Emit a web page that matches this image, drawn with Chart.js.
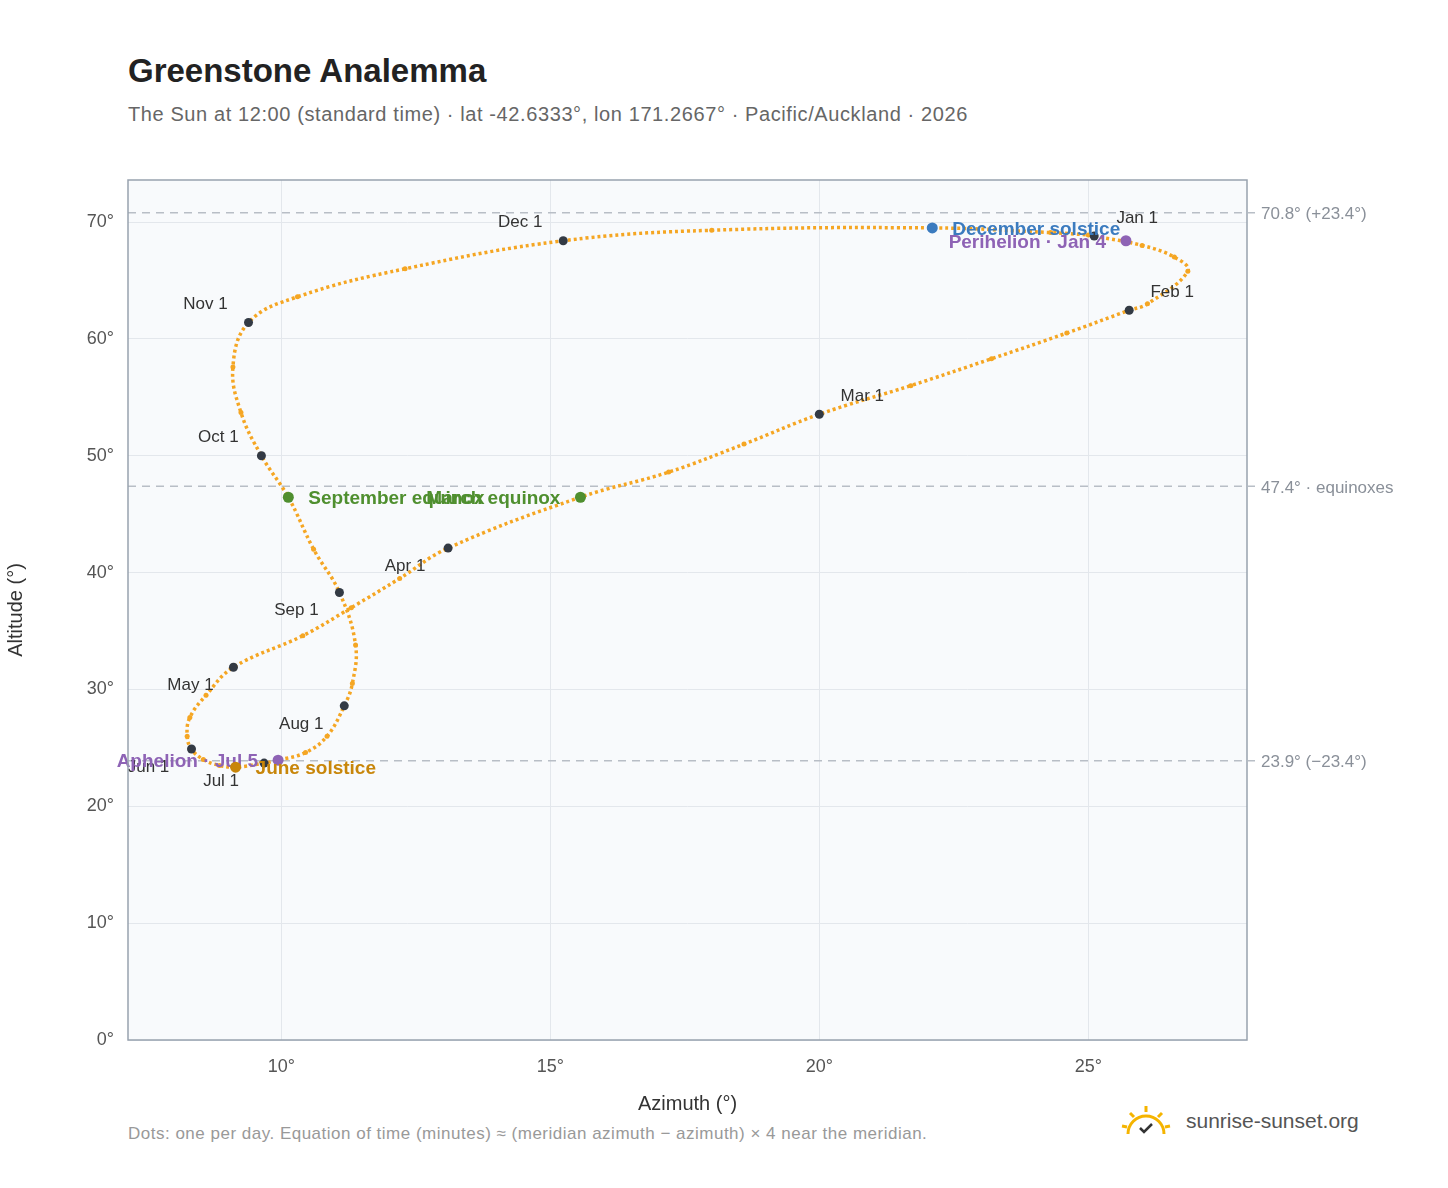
<!DOCTYPE html>
<html><head><meta charset="utf-8">
<script src="https://cdn.jsdelivr.net/npm/chart.js@4"></script>
<style>
body{margin:0;width:1448px;height:1188px;background:#fff;font-family:"Liberation Sans",Arial,sans-serif;position:relative;overflow:hidden}
#t{position:absolute;left:128px;top:52px;font-size:33px;font-weight:bold;color:#222}
#s{position:absolute;left:128px;top:103px;font-size:20px;letter-spacing:0.6px;color:#666}
#f{position:absolute;left:128px;top:1124px;font-size:17px;letter-spacing:0.5px;color:#999}
#logo{position:absolute;left:1120px;top:1104px;font-size:21px;color:#555}
#logo span{margin-left:14px;vertical-align:middle}
canvas{position:absolute;left:0;top:0}
</style></head><body>
<div id="t">Greenstone Analemma</div>
<div id="s">The Sun at 12:00 (standard time) · lat -42.6333°, lon 171.2667° · Pacific/Auckland · 2026</div>
<div id="f">Dots: one per day. Equation of time (minutes) ≈ (meridian azimuth − azimuth) × 4 near the meridian.</div>
<div id="logo"><svg width="52" height="34" viewBox="0 0 52 34" style="vertical-align:middle"><path d="M8 30 A18 18 0 0 1 44 30" fill="none" stroke="#f5b400" stroke-width="3"/><g stroke="#f5b400" stroke-width="3"><line x1="26" y1="2" x2="26" y2="8"/><line x1="10" y1="9" x2="14" y2="13"/><line x1="42" y1="9" x2="38" y2="13"/><line x1="2" y1="22" x2="7" y2="23"/><line x1="50" y1="22" x2="45" y2="23"/></g><path d="M20 24 l4 4 l8 -8" fill="none" stroke="#333" stroke-width="2.5"/></svg><span>sunrise-sunset.org</span></div>
<canvas id="c" width="1448" height="1188"></canvas>
<script>
const dates = ['Jan 1','Jan 8','Jan 15','Jan 22','Jan 29','Feb 1','Feb 8','Feb 15','Feb 22','Mar 1','Mar 8','Mar 15','Mar 20','Apr 1','Apr 8','Apr 15','Apr 22','May 1','May 8','May 15','May 22','Jun 1','Jun 8','Jun 15','Jun 21','Jul 1','Jul 5','Jul 12','Jul 20','Aug 1','Aug 10','Aug 20','Sep 1','Sep 10','Sep 22','Oct 1','Oct 10','Oct 20','Nov 1','Nov 10','Nov 20','Dec 1','Dec 10','Dec 21','Dec 28','Dec 31'];
const azimuth = [25.11,26.0,26.6,26.85,26.1,25.76,24.6,23.2,21.7,20.0,18.6,17.2,15.56,13.1,12.2,11.3,10.4,9.11,8.6,8.3,8.25,8.33,8.55,8.85,9.15,9.68,9.94,10.45,10.85,11.17,11.32,11.38,11.08,10.6,10.13,9.63,9.25,9.1,9.39,10.3,12.3,15.24,18.0,22.1,24.3,25.0];
const altitude = [68.8,68.0,67.0,65.8,63.0,62.45,60.5,58.3,56.0,53.55,51.0,48.6,46.45,42.1,39.5,37.0,34.6,31.9,29.5,27.6,26.0,24.9,24.0,23.5,23.35,23.7,23.95,24.6,26.0,28.6,30.5,33.8,38.3,42.0,46.45,50.0,53.7,57.6,61.4,63.6,66.0,68.4,69.3,69.5,69.1,68.9];
const monthStarts = ['Jan 1','Feb 1','Mar 1','Apr 1','May 1','Jun 1','Jul 1','Aug 1','Sep 1','Oct 1','Nov 1','Dec 1'];
const events = [
  {name:'December solstice', date:'Dec 21', color:'#3b7bbf', side:'right'},
  {name:'Perihelion · Jan 4', az:25.7, alt:68.4, color:'#8e63b5', side:'leftdown'},
  {name:'March equinox', date:'Mar 20', color:'#4f8f2f', side:'left'},
  {name:'September equinox', date:'Sep 22', color:'#4f8f2f', side:'right'},
  {name:'Aphelion · Jul 5', date:'Jul 5', color:'#8e63b5', side:'left'},
  {name:'June solstice', date:'Jun 21', color:'#c8860a', side:'right'}
];
const refLines = [[70.8,'70.8° (+23.4°)'],[47.4,'47.4° · equinoxes'],[23.9,'23.9° (−23.4°)']];

const pts = dates.map((d,i)=>({x:azimuth[i],y:altitude[i]}));
const at = d => { const i = dates.indexOf(d); return {x:azimuth[i], y:altitude[i]}; };

const overlay = {
  id:'overlay',
  beforeDatasetsDraw(ch){
    const {ctx,chartArea:a,scales:{x,y}} = ch;
    ctx.save();
    ctx.setLineDash([8,6]); ctx.strokeStyle='#b8bec6'; ctx.lineWidth=1.5;
    ctx.font='17px "Liberation Sans"'; ctx.fillStyle='#8a9099'; ctx.textBaseline='middle';
    refLines.forEach(([v,l])=>{
      const py=y.getPixelForValue(v);
      ctx.beginPath(); ctx.moveTo(a.left,py); ctx.lineTo(a.right+8,py); ctx.stroke();
      ctx.fillText(l,a.right+14,py+2);
    });
    ctx.restore();
  },
  afterDatasetsDraw(ch){
    const {ctx,scales:{x,y}} = ch;
    ctx.save();
    ctx.font='17px "Liberation Sans"'; ctx.textBaseline='middle';
    monthStarts.forEach((m,i)=>{
      const p=at(m), px=x.getPixelForValue(p.x), py=y.getPixelForValue(p.y);
      ctx.fillStyle='#333a44'; ctx.beginPath(); ctx.arc(px,py,4.5,0,7); ctx.fill();
      const up = i<3 || i>8, right = i<3;
      ctx.fillStyle='#333'; ctx.textAlign='center';
      ctx.fillText(m, px+(right?43:-43), py+(up?-18:18));
    });
    ctx.font='bold 19px "Liberation Sans"';
    events.forEach(e=>{
      const p=e.date?at(e.date):{x:e.az,y:e.alt};
      const px=x.getPixelForValue(p.x), py=y.getPixelForValue(p.y);
      ctx.fillStyle=e.color; ctx.beginPath(); ctx.arc(px,py,5.5,0,7); ctx.fill();
      if(e.side==='right'){ctx.textAlign='left'; ctx.fillText(e.name,px+20,py+2);}
      else {ctx.textAlign='right'; ctx.fillText(e.name,px-20,py+2);}
    });
    ctx.restore();
  },
  beforeDraw(ch){
    const {ctx,chartArea:a}=ch;
    ctx.save(); ctx.fillStyle='#f8fafc'; ctx.fillRect(a.left,a.top,a.width,a.height); ctx.restore();
  },
  afterDraw(ch){
    const {ctx,chartArea:a}=ch;
    ctx.save(); ctx.strokeStyle='#98a2ae'; ctx.lineWidth=1.5; ctx.strokeRect(a.left,a.top,a.width,a.height); ctx.restore();
  }
};

new Chart(document.getElementById('c'),{
  type:'scatter',
  data:{datasets:[{data:pts,showLine:true,tension:0.4,borderColor:'#f5a623',borderWidth:3.5,borderDash:[3,3],
    pointRadius:2.5,pointBackgroundColor:'#f5a623',pointBorderWidth:0}]},
  options:{
    responsive:false,animation:false,
    layout:{padding:{top:180,right:201,bottom:68,left:0}},
    plugins:{legend:{display:false},tooltip:{enabled:false}},
    scales:{
      x:{type:'linear',min:7.15,max:27.95,
        afterBuildTicks:s=>{s.ticks=[10,15,20,25].map(v=>({value:v}));},
        afterFit:s=>{s.height=80;},
        grid:{color:'#e3e7ec',drawTicks:false},border:{display:false},
        ticks:{padding:16,color:'#555',font:{size:18,family:'Liberation Sans'},callback:v=>v+'°'},
        title:{display:true,text:'Azimuth (°)',color:'#333',padding:{top:4},font:{size:20,family:'Liberation Sans'}}},
      y:{type:'linear',min:0,max:73.6,
        afterBuildTicks:s=>{s.ticks=[0,10,20,30,40,50,60,70].map(v=>({value:v}));},
        afterFit:s=>{s.width=128;},
        grid:{color:'#e3e7ec',drawTicks:false},border:{display:false},
        ticks:{padding:14,color:'#555',font:{size:18,family:'Liberation Sans'},callback:v=>v+'°'},
        title:{display:true,text:'Altitude (°)',color:'#333',font:{size:20,family:'Liberation Sans'}}}
    }
  },
  plugins:[overlay]
});
</script>
</body></html>
